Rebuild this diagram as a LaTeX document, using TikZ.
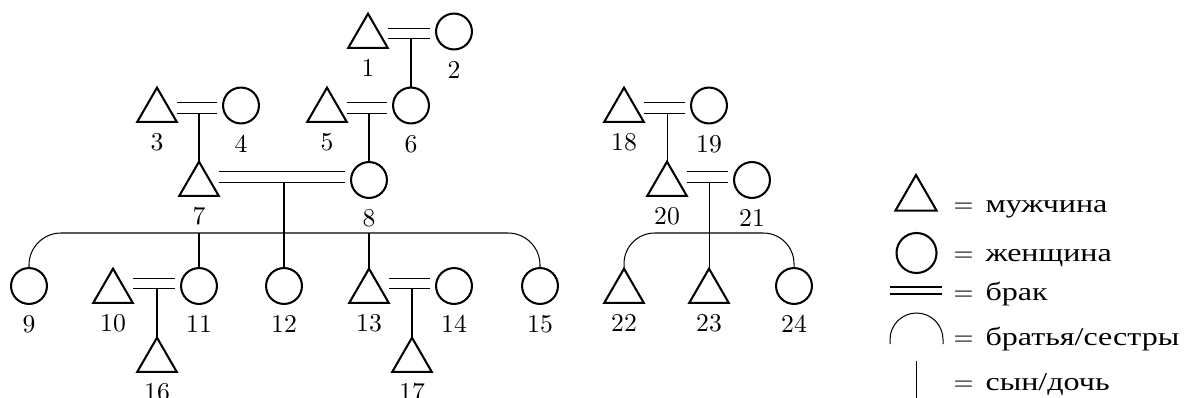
\documentclass[tikz,border=0pt]{standalone}
\usepackage{fontspec}
\newfontfamily\cyr[FakeStretch=1.25]{Liberation Serif}
\usetikzlibrary{shapes.geometric,calc}
\newcommand\marry[4]{%
  \draw[conn] ($(#1.corner 3 |- #2.center)+(0,#3-5.25)$) -- ($(#2.west)+(-6,#3-5.25)$);
  \draw[conn] ($(#1.corner 3 |- #2.center)+(0,#3+5.25)$) coordinate (#4) -- ($(#2.west)+(-6,#3+5.25)$);
}
\begin{document}
\begin{tikzpicture}[x=0.39pt,y=-0.39pt,
  shp/.style={draw,thick,inner sep=0pt,outer sep=0pt},
  man/.style={shp,regular polygon,regular polygon sides=3,minimum size=17.8pt},
  woman/.style={shp,circle,minimum size=14pt},
  lman/.style={shp,regular polygon,regular polygon sides=3,minimum size=18.5pt},
  lwoman/.style={shp,circle,minimum size=15.6pt},
  conn/.style={thin},
  leg/.style={anchor=base west,inner sep=0pt},
  label distance=1pt]
\useasboundingbox (0,0) rectangle (1184,397);
% row 1
\node[man,label=below:1] (n1) at (368,36.5) {};
\node[woman,label=below:2] (n2) at (454,31.5) {};
% row 2
\node[man,label=below:3] (n3) at (157,110.5) {};
\node[woman,label=below:4] (n4) at (241,105.5) {};
\node[man,label=below:5] (n5) at (327,110.5) {};
\node[woman,label=below:6] (n6) at (411,105.5) {};
\node[man,label=below:18] (n18) at (624,110.5) {};
\node[woman,label=below:19] (n19) at (709,105.5) {};
% row 3
\node[man,label=below:7] (n7) at (199,184.5) {};
\node[woman,label=below:8] (n8) at (369,180) {};
\node[man,label=below:20] (n20) at (667,184.5) {};
\node[woman,label=below:21] (n21) at (752,180) {};
% row 4
\node[woman,label=below:9] (n9) at (29,286) {};
\node[man,label=below:10] (n10) at (113,291.5) {};
\node[woman,label=below:11] (n11) at (199,286) {};
\node[woman,label=below:12] (n12) at (284,286) {};
\node[man,label=below:13] (n13) at (369,291.5) {};
\node[woman,label=below:14] (n14) at (454,286) {};
\node[woman,label=below:15] (n15) at (540,286) {};
\node[man,label=below:22] (n22) at (624,291.5) {};
\node[man,label=below:23] (n23) at (709,291.5) {};
\node[woman,label=below:24] (n24) at (794,286) {};
% row 5
\node[man,label=below:16] (n16) at (157,360.5) {};
\node[man,label=below:17] (n17) at (412,360.5) {};
% marriages
\marry{n1}{n2}{2}{m12}
\marry{n3}{n4}{2.5}{m34}
\marry{n5}{n6}{2.5}{m56}
\marry{n18}{n19}{2.5}{m1819}
\marry{n7}{n8}{-3}{m78}
\marry{n20}{n21}{-3}{m2021}
\marry{n10}{n11}{-2.5}{m1011}
\marry{n13}{n14}{-2.5}{m1314}
% children
\draw[conn] (n6.north |- m12) -- (n6.north);
\draw[conn] (n7.north |- m34) -- (n7.north);
\draw[conn] (n8.north |- m56) -- (n8.north);
\draw[conn] (n20.north |- m1819) -- (n20.north);
\draw[conn] (n12.north |- m78) -- (n12.north);
\draw[conn] (n23.north |- m2021) -- (n23.north);
\draw[conn] (n16.north |- m1011) -- (n16.north);
\draw[conn] (n17.north |- m1314) -- (n17.north);
% siblings
\coordinate (s1) at (284,233);
\draw[conn,rounded corners=12.5pt] (n9.north) |- (s1) -| (n15.north);
\draw[conn] (n11.north |- s1) -- (n11.north);
\draw[conn] (n13.north |- s1) -- (n13.north);
\coordinate (s2) at (709,233);
\draw[conn,rounded corners=12pt] (n22.north) |- (s2) -| (n24.north);
% legend
\node[lman] (lt) at (916,198.7) {};
\node[lwoman] (lc) at (916.5,253) {};
\coordinate (lb1) at (890,287); \coordinate (lb2) at (942,287);
\coordinate (lb3) at (890,294); \coordinate (lb4) at (942,294);
\draw[conn] (lb1) -- (lb2);
\draw[conn] (lb3) -- (lb4);
\coordinate (la1) at (890,344); \coordinate (la2) at (943,344); \coordinate (lat) at (916.5,313);
\draw[conn] (la1) -- (890,339.5) .. controls (890,324.9) and (901.9,313) .. (lat)
  .. controls (931.1,313) and (943,324.9) .. (943,339.5) -- (la2);
\coordinate (lv1) at (916,361); \coordinate (lv2) at (916,400);
\draw[conn] (lv1) -- (lv2);
\node[leg] (t1) at (953,212) {$=$\hspace{4.7pt}{\cyr мужчина}};
\node[leg] (t2) at (953,261) {$=$\hspace{4.7pt}{\cyr женщина}};
\node[leg] (t3) at (953,300) {$=$\hspace{4.7pt}{\cyr брак}};
\node[leg] (t4) at (953,345) {$=$\hspace{4.7pt}{\cyr братья/сестры}};
\node[leg] (t5) at (953,390) {$=$\hspace{4.7pt}{\cyr сын/дочь}};
\end{tikzpicture}
\end{document}
